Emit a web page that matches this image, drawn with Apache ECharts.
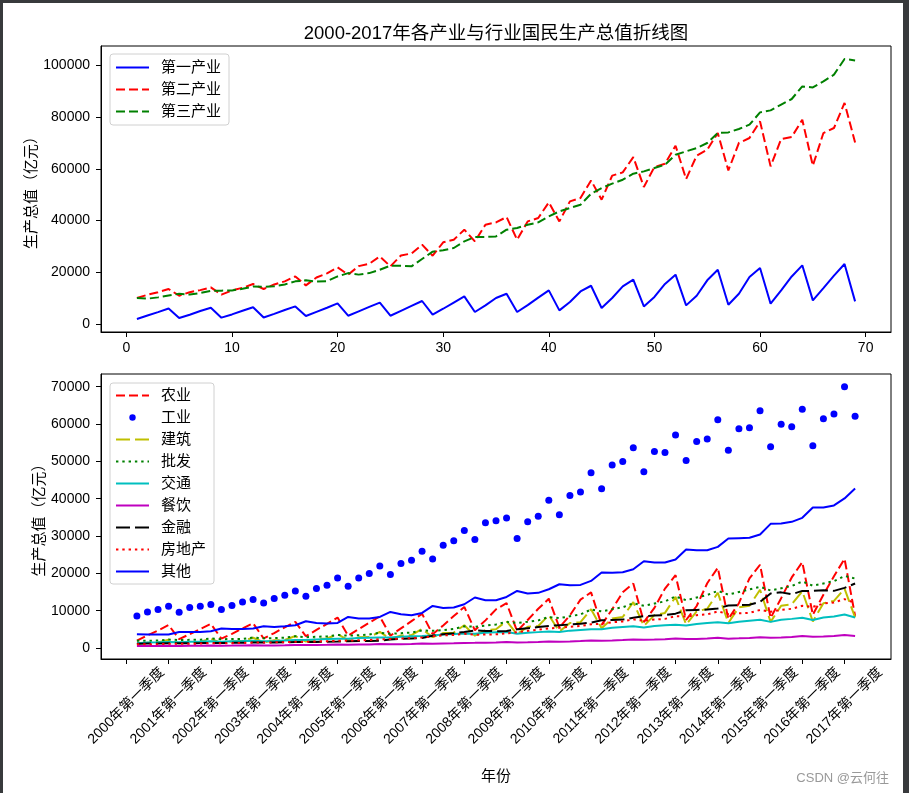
<!DOCTYPE html>
<html><head><meta charset="utf-8">
<script src="https://cdn.jsdelivr.net/npm/echarts@6/dist/echarts.min.js"></script>
<style>
html,body{margin:0;padding:0;width:909px;height:793px;background:#383a3c;overflow:hidden}
#paper{position:absolute;left:3px;top:3px;width:900px;height:790px;background:#fff}
#chart{position:absolute;left:0;top:0;width:909px;height:793px}
</style></head><body><div id="paper"></div><div id="chart"></div>
<script>
// quarter index 1..69 (2000Q1 .. 2017Q1)
const quarters = Array.from({length: 69}, (_, i) => i + 1);
const tickLabels = ['2000年第一季度','2001年第一季度','2002年第一季度','2003年第一季度','2004年第一季度','2005年第一季度','2006年第一季度','2007年第一季度','2008年第一季度','2009年第一季度','2010年第一季度','2011年第一季度','2012年第一季度','2013年第一季度','2014年第一季度','2015年第一季度','2016年第一季度','2017年第一季度'];

const primary = [1935,3300,4600,6000, 2300,3600,5000,6300, 2450,3700,5100,6500, 2500,3900,5400,6800, 3100,4700,6300,7950, 3200,4900,6600,8250, 3200,5100,7000,8900, 3600,5900,8300,10700, 4650,7200,10050,11700, 4650,7300,10200,13000, 5270,8500,12600,14800, 6200,10050,14550,17150, 6800,10450,15500,19100, 7200,10950,16900,21000, 7450,11700,18200,21650, 7850,13000,18400,22700, 9150,13900,18700,23200, 8750];
const secondary = [10060,11300,12300,13540, 10950,12300,13100,14160, 11340,13000,14000,15480, 13540,15300,16500,18420, 14940,18000,19600,21900, 19080,22400,23300,26160, 22300,26500,27300,30700, 26430,31600,32600,36500, 31970,38430,39300,41400, 32600,39700,41000,47060, 39700,47450,48760,55570, 48100,57400,58670,64600, 53000,60760,62030,69000, 56100,65130,67450,73900, 59440,70050,71980,78400, 61000,71600,72370,79060, 61260,73900,75850,85530, 70280];
const tertiary = [10060,9800,10300,11000, 11700,11400,12000,12800, 12900,13000,13600,14500, 14400,14600,15300,16500, 16900,16400,16600,18400, 19700,19100,19700,21000, 22560,22560,22300,25150, 27980,28500,29400,31970, 33670,33670,33900,36500, 37150,38430,39320,41640, 43580,44890,46170,50420, 52630,54300,55840,58170, 59060,60370,61650,65520, 66800,68100,70050,73900, 74150,75460,77130,81890, 82670,84870,87070,91950, 91560,93890,96480,102550, 102000];

const agriculture = [1970,3400,4700,6150, 2350,3700,5100,6450, 2500,3800,5250,6650, 2550,4000,5550,7000, 3150,4850,6450,8150, 3300,5050,6800,8450, 3300,5250,7200,9150, 3700,6050,8550,11000, 4750,7400,10350,12000, 4500,7500,10500,13200, 5500,8750,12950,14900, 6200,10350,14950,17300, 6950,10750,15900,19500, 7500,11250,17350,21500, 7750,12000,18650,22300, 8050,13350,18900,23000, 8900,14250,19200,23900, 8600];
const industry = [8580,9650,10300,11180, 9580,10830,11180,11640, 10300,11370,12340,12980, 12070,13250,14130,15290, 13870,15930,16820,18770, 16550,18770,19950,21990, 19690,22630,23520,25930, 23870,27540,28700,31490, 29070,33520,34060,34790, 29340,33800,35320,39610, 35670,40870,41760,46940, 42650,49000,49990,53640, 47200,52670,52400,57050, 50260,55350,55970,61150, 52940,58740,59010,63570, 53910,59920,59280,63940, 54180,61420,62680,70000, 62060];
const construction = [1100,1400,1500,2200, 1200,1550,1650,2450, 1300,1750,1850,2750, 1500,2050,2150,3200, 1700,2400,2550,3700, 2100,2850,2950,4300, 2450,3350,3450,5100, 2900,4000,4100,6100, 3300,4800,5000,7200, 3700,5700,5900,8800, 4400,6700,6900,10400, 5300,7900,8300,12300, 5900,8800,9400,13700, 6300,9800,10500,14800, 6700,10900,11300,15600, 7000,11300,11700,15200, 7100,12000,12600,15900, 8200];
const wholesale = [1950,1950,2000,2260, 2150,2180,2230,2550, 2350,2400,2450,2800, 2600,2650,2750,3150, 2900,3000,3100,3500, 3300,3400,3600,4100, 3800,3950,4150,4700, 4600,4800,5100,5800, 5700,6000,6300,7000, 6700,7000,7400,8300, 8000,8500,9000,10300, 9800,10400,10900,12000, 11300,11900,12500,13800, 12800,13500,14200,15300, 14300,15000,15700,16400, 15400,16000,16600,17800, 16700,17300,17900,19300, 18600];
const transport = [1300,1450,1520,1600, 1520,1650,1720,1800, 1680,1820,1880,1950, 1780,1900,2030,2120, 2150,2300,2400,2450, 2450,2650,2750,2820, 2800,3000,3150,3230, 3350,3600,3750,3900, 3800,4050,4200,4300, 3800,4050,4250,4400, 4300,4650,4850,5000, 5000,5400,5600,5800, 5500,5900,6100,6250, 6000,6450,6700,6900, 6600,7050,7300,7550, 7000,7550,7800,8100, 7500,8150,8450,8950, 8150];
const catering = [500,520,540,590, 560,580,600,660, 620,640,670,730, 650,680,720,790, 780,810,850,920, 880,920,960,1040, 990,1030,1080,1170, 1150,1200,1250,1360, 1380,1420,1480,1600, 1480,1520,1590,1720, 1700,1760,1840,2000, 1960,2030,2120,2300, 2200,2270,2370,2560, 2380,2440,2540,2740, 2500,2580,2700,2900, 2740,2820,2950,3180, 3000,3080,3240,3500, 3220];
const finance = [1150,1200,1220,1270, 1250,1290,1310,1350, 1330,1370,1400,1450, 1450,1490,1520,1580, 1580,1630,1660,1720, 1800,1850,1880,1940, 2300,2450,2550,2650, 3300,3700,3950,4300, 4700,4550,4500,4560, 5000,5300,5600,5900, 6100,6300,6500,6800, 7430,7500,7600,8100, 8500,8700,8800,9200, 10100,10200,10300,10600, 11400,11500,11600,12340, 14600,14900,14400,15300, 15300,15500,15300,16100, 17270];
const realEstate = [980,1010,1040,1120, 1110,1150,1180,1280, 1250,1300,1350,1450, 1450,1500,1560,1660, 1680,1740,1810,1940, 1980,2060,2150,2330, 2400,2520,2620,2830, 3150,3350,3500,3810, 3550,3600,3650,3940, 4200,4600,4900,5270, 5400,5700,5900,6330, 6500,6900,7100,7670, 7300,7600,7800,8550, 8400,8800,9000,9790, 9100,9300,9400,10200, 9700,10200,10500,11300, 11000,11900,12200,13100, 12020];
const others = [3670,3590,3590,3620, 4290,4290,4290,4480, 5200,5100,5100,5200, 5820,5630,5820,6090, 7160,6700,6540,6700, 8310,7880,7880,8310, 9650,9040,8770,9390, 11260,10730,10830,11720, 13520,12800,12800,13680, 15290,14590,14770,15740, 17080,16820,16900,17970, 20220,20130,20310,21110, 23250,22900,22900,23710, 26390,26200,26200,27090, 29340,29430,29520,30410, 33260,33350,33800,34870, 37650,37650,38190,40060, 42740];

const topTicksX = [0,10,20,30,40,50,60,70];
const topTicksY = [0,20000,40000,60000,80000,100000];
const botTicksX = [0,4,8,12,16,20,24,28,32,36,40,44,48,52,56,60,64,68];
const botTicksY = [0,10000,20000,30000,40000,50000,60000,70000];

const FONT = "'Liberation Sans','Noto Sans CJK SC',sans-serif";
const DASH = [9, 4];
const LONGDASH = [14, 5];
const DOT = [2.4, 3.9];

function pts(arr) { return quarters.map((q, i) => [q, arr[i]]); }
function lineSeries(name, arr, color, type, grid) {
  return {
    name, type: 'line', data: pts(arr), xAxisIndex: grid, yAxisIndex: grid,
    symbol: 'none', showSymbol: false, silent: true, animation: false,
    lineStyle: { color, width: 2, type: type },
    itemStyle: { color },
    emphasis: { disabled: true }
  };
}

const plain = v => String(v);

const axisCommonX = (grid, ticks) => ({
  type: 'value', gridIndex: grid, min: -2.4, max: 72.4,
  axisLine: { show: true, onZero: false, lineStyle: { color: '#000', width: 1 } },
  axisTick: { show: true, length: 5, inside: false, customValues: ticks, lineStyle: { color: '#000' } },
  splitLine: { show: false }
});

const series = [
  lineSeries('第一产业', primary, '#0000ff', 'solid', 0),
  lineSeries('第二产业', secondary, '#ff0000', DASH, 0),
  lineSeries('第三产业', tertiary, '#008000', DASH, 0),
  lineSeries('农业', agriculture, '#ff0000', DASH, 1),
  {
    name: '工业', type: 'line', data: pts(industry), xAxisIndex: 1, yAxisIndex: 1,
    symbol: 'circle', symbolSize: 7, showSymbol: true, showAllSymbol: true, silent: true, animation: false,
    lineStyle: { width: 0, opacity: 0 }, itemStyle: { color: '#0000ff' }, emphasis: { disabled: true }
  },
  lineSeries('建筑', construction, '#bfbf00', LONGDASH, 1),
  lineSeries('批发', wholesale, '#008000', DOT, 1),
  lineSeries('交通', transport, '#00bfbf', 'solid', 1),
  lineSeries('餐饮', catering, '#bf00bf', 'solid', 1),
  lineSeries('金融', finance, '#000000', LONGDASH, 1),
  lineSeries('房地产', realEstate, '#ff0000', DOT, 1),
  lineSeries('其他', others, '#0000ff', 'solid', 1)
];

const legendBase = {
  orient: 'vertical', left: 110, itemWidth: 33, itemHeight: 8, selectedMode: false,
  backgroundColor: 'rgba(255,255,255,0.8)', borderColor: '#d0d0d0', borderWidth: 1, borderRadius: 3,
  textStyle: { fontSize: 15, color: '#000', fontFamily: FONT, padding: [0, 0, 0, 7] }
};
const hideSym = n => ({ name: n, itemStyle: { opacity: 0 } });

const yAxisFor = (grid, min, max, ticks, gap) => ({
  type: 'value', gridIndex: grid, min, max,
  name: '生产总值（亿元）', nameLocation: 'middle', nameGap: gap, nameMoveOverlap: false,
  nameTextStyle: { fontSize: 15, color: '#000', fontFamily: FONT },
  axisLine: { show: true, onZero: false, lineStyle: { color: '#000' } },
  axisTick: { show: true, length: 5, customValues: ticks, lineStyle: { color: '#000' } },
  axisLabel: { customValues: ticks, fontSize: 14, color: '#000', margin: 11, fontFamily: FONT, formatter: plain },
  splitLine: { show: false }
});

const option = {
  animation: false,
  title: [
    { text: '2000-2017年各产业与行业国民生产总值折线图', left: 491, top: 20, textAlign: 'center',
      textStyle: { fontSize: 18.5, fontWeight: 'normal', color: '#000', fontFamily: FONT } },
    { text: 'CSDN @云何往', right: 15, top: 767,
      textStyle: { fontSize: 13, fontWeight: 'normal', color: '#999', fontFamily: FONT } }
  ],
  grid: [
    { left: 101, top: 46, width: 790, height: 286, show: true, borderColor: '#000', borderWidth: 1, backgroundColor: 'transparent' },
    { left: 101, top: 374, width: 790, height: 285, show: true, borderColor: '#000', borderWidth: 1, backgroundColor: 'transparent' }
  ],
  legend: [
    Object.assign({}, legendBase, { top: 54, itemGap: 7, padding: [6, 8, 6, 5],
      data: ['第一产业','第二产业','第三产业'].map(hideSym) }),
    Object.assign({}, legendBase, { top: 383, itemGap: 7, padding: [5, 8, 5, 5],
      data: [hideSym('农业'), { name: '工业' }, hideSym('建筑'), hideSym('批发'), hideSym('交通'), hideSym('餐饮'), hideSym('金融'), hideSym('房地产'), hideSym('其他')] })
  ],
  xAxis: [
    Object.assign(axisCommonX(0, topTicksX), {
      axisLabel: { customValues: topTicksX, fontSize: 14, color: '#000', margin: 9, fontFamily: FONT, formatter: plain }
    }),
    Object.assign(axisCommonX(1, botTicksX), {
      name: '年份', nameLocation: 'middle', nameGap: 110, nameMoveOverlap: false,
      nameTextStyle: { fontSize: 15, color: '#000', fontFamily: FONT },
      axisLabel: { customValues: botTicksX, fontSize: 14, color: '#000', fontFamily: FONT,
        rotate: 45, align: 'center', verticalAlign: 'middle', margin: 47,
        formatter: v => tickLabels[Math.round(v / 4)] }
    })
  ],
  yAxis: [
    yAxisFor(0, -3100, 107580, topTicksY, 62),
    yAxisFor(1, -2950, 73400, botTicksY, 54)
  ],
  series
};

const chart = echarts.init(document.getElementById('chart'), null, { renderer: 'canvas' });
chart.setOption(option);
</script></body></html>
